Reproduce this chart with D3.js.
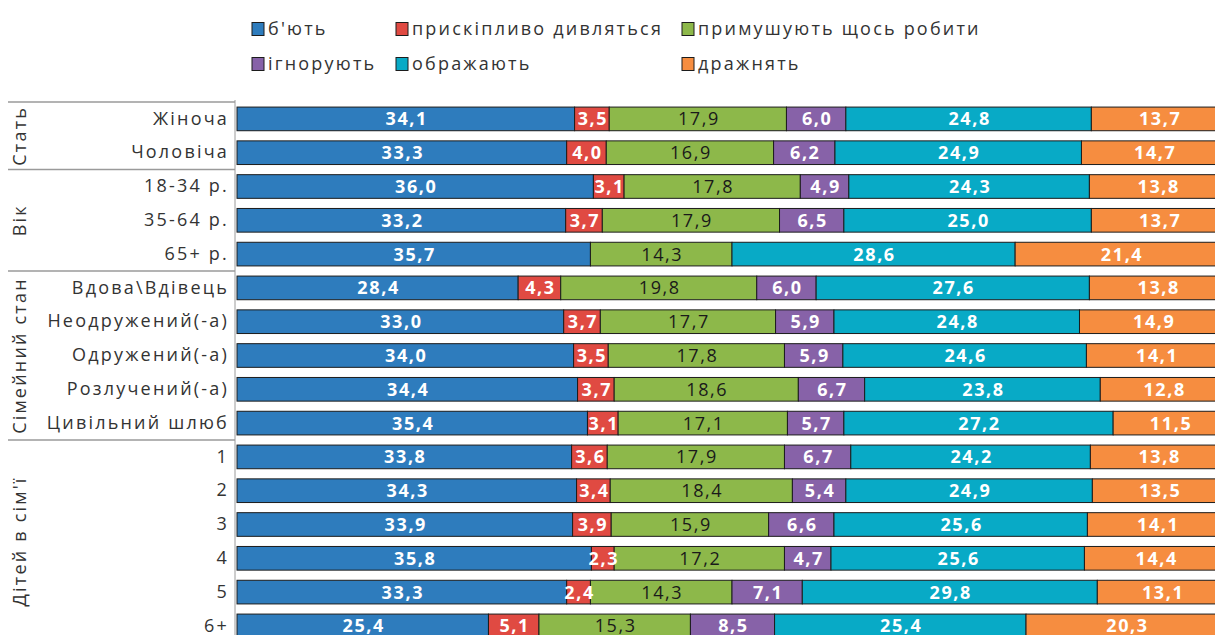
<!DOCTYPE html>
<html>
<head>
<meta charset="utf-8">
<script src="https://cdn.jsdelivr.net/npm/d3@7"></script>
<style>
  html, body { margin: 0; padding: 0; background: #fff; }
  svg { display: block; }
</style>
</head>
<body>
<div id="chart"></div>
<script>
// categories (rows, top to bottom) and their groups
const categories = ["Жіноча", "Чоловіча", "18-34 р.", "35-64 р.", "65+ р.",
  "Вдова\\Вдівець", "Неодружений(-а)", "Одружений(-а)", "Розлучений(-а)", "Цивільний шлюб",
  "1", "2", "3", "4", "5", "6+"];
const groupNames = ["Стать", "Вік", "Сімейний стан", "Дітей в сім'ї"];
const groupSizes = [2, 3, 5, 6];

const seriesNames = ["б'ють", "прискіпливо дивляться", "примушують щось робити",
  "ігнорують", "ображають", "дражнять"];

// values, %
const beat      = [34.1, 33.3, 36.0, 33.2, 35.7, 28.4, 33.0, 34.0, 34.4, 35.4, 33.8, 34.3, 33.9, 35.8, 33.3, 25.4];
const scrutiny  = [3.5, 4.0, 3.1, 3.7, 0, 4.3, 3.7, 3.5, 3.7, 3.1, 3.6, 3.4, 3.9, 2.3, 2.4, 5.1];
const forced    = [17.9, 16.9, 17.8, 17.9, 14.3, 19.8, 17.7, 17.8, 18.6, 17.1, 17.9, 18.4, 15.9, 17.2, 14.3, 15.3];
const ignore    = [6.0, 6.2, 4.9, 6.5, 0, 6.0, 5.9, 5.9, 6.7, 5.7, 6.7, 5.4, 6.6, 4.7, 7.1, 8.5];
const insult    = [24.8, 24.9, 24.3, 25.0, 28.6, 27.6, 24.8, 24.6, 23.8, 27.2, 24.2, 24.9, 25.6, 25.6, 29.8, 25.4];
const tease     = [13.7, 14.7, 13.8, 13.7, 21.4, 13.8, 14.9, 14.1, 12.8, 11.5, 13.8, 13.5, 14.1, 14.4, 13.1, 20.3];

const seriesValues = [beat, scrutiny, forced, ignore, insult, tease];
const colors = ["#2e7cbd", "#e04a42", "#8db84a", "#8762a8", "#08aac6", "#f68d40"];
const labelColors = ["#fff", "#fff", "#1a1a1a", "#fff", "#fff", "#fff"];

const W = 1215, H = 635;
const FONT = "'Open Sans', 'DejaVu Sans', sans-serif";
const LS = "2.2px"; // the original text is widely spaced

const svg = d3.select("#chart").append("svg")
  .attr("width", W).attr("height", H)
  .style("font-family", FONT);

// table for stack
const table = categories.map((c, i) => {
  const row = { cat: c };
  seriesNames.forEach((s, k) => row[s] = seriesValues[k][i]);
  return row;
});
const stacked = d3.stack().keys(seriesNames)(table);

const x = d3.scaleLinear().domain([0, 100]).range([237, 1227]);
const y = d3.scaleBand().domain(categories).range([102, 642.8])
  .paddingInner(0.3).paddingOuter(0.15);

// bars
const layer = svg.append("g").selectAll("g")
  .data(stacked).enter().append("g")
  .attr("fill", (d, i) => colors[i]);

layer.selectAll("rect")
  .data(d => d.filter(p => p[1] - p[0] > 0))
  .enter().append("rect")
  .attr("x", p => x(p[0]))
  .attr("y", p => y(p.data.cat))
  .attr("width", p => x(p[1]) - x(p[0]))
  .attr("height", y.bandwidth())
  .attr("stroke", "#1c1c1c")
  .attr("stroke-width", 1);

// value labels
const fmt = v => d3.format(".1f")(v).replace(".", ",");
stacked.forEach((s, i) => {
  svg.append("g").selectAll("text")
    .data(s.filter(p => p[1] - p[0] > 0))
    .enter().append("text")
    .attr("x", p => (x(p[0]) + x(p[1])) / 2 + 1)
    .attr("y", p => y(p.data.cat) + y.bandwidth() / 2)
    .attr("dy", "0.36em")
    .attr("text-anchor", "middle")
    .style("font-size", "18px")
    .style("letter-spacing", "1.6px")
    .style("font-weight", i === 2 ? "400" : "700")
    .style("fill", labelColors[i])
    .text(p => fmt(p[1] - p[0]));
});

// category axis
const axisX = 235;
svg.append("g")
  .attr("transform", `translate(${axisX},0)`)
  .call(d3.axisLeft(y).tickSize(0).tickSizeOuter(0).tickPadding(6))
  .call(g => g.select(".domain").attr("stroke", "#9a9a9a").attr("d", `M0,100V${H}`))
  .call(g => g.selectAll("text")
    .style("font-family", FONT).style("font-size", "18px")
    .style("letter-spacing", LS).style("fill", "#333"));

// group separators and rotated group labels
let idx = 0;
const edge = k => k < categories.length ? y(categories[k]) - y.step() * 0.15 : y.range()[1];
svg.append("line")
  .attr("x1", 8).attr("x2", axisX).attr("y1", edge(0)).attr("y2", edge(0))
  .attr("stroke", "#9a9a9a").attr("stroke-width", 1.5);
groupNames.forEach((name, gi) => {
  const top = edge(idx);
  idx += groupSizes[gi];
  const bottom = edge(idx);
  if (idx < categories.length) {
    svg.append("line")
      .attr("x1", 8).attr("x2", axisX).attr("y1", bottom).attr("y2", bottom)
      .attr("stroke", "#9a9a9a").attr("stroke-width", 1.5);
  }
  const cy = (top + bottom) / 2;
  svg.append("text")
    .attr("transform", `translate(20,${cy}) rotate(-90)`)
    .attr("text-anchor", "middle")
    .attr("dy", "0.36em")
    .style("font-size", "18px")
    .style("letter-spacing", LS)
    .style("fill", "#333")
    .text(name);
});

// legend
const legendPos = [[252, 29], [396, 29], [682, 29], [252, 64], [396, 64], [682, 64]];
seriesNames.forEach((s, i) => {
  const [lx, ly] = legendPos[i];
  const g = svg.append("g").attr("transform", `translate(${lx},${ly})`);
  g.append("rect")
    .attr("x", 0).attr("y", -6.5).attr("width", 12).attr("height", 13)
    .attr("fill", colors[i]).attr("stroke", "#1c1c1c").attr("stroke-width", 1);
  g.append("text")
    .attr("x", 16).attr("dy", "0.35em")
    .style("font-size", "18px").style("letter-spacing", LS).style("fill", "#333")
    .text(s);
});
</script>
</body>
</html>
